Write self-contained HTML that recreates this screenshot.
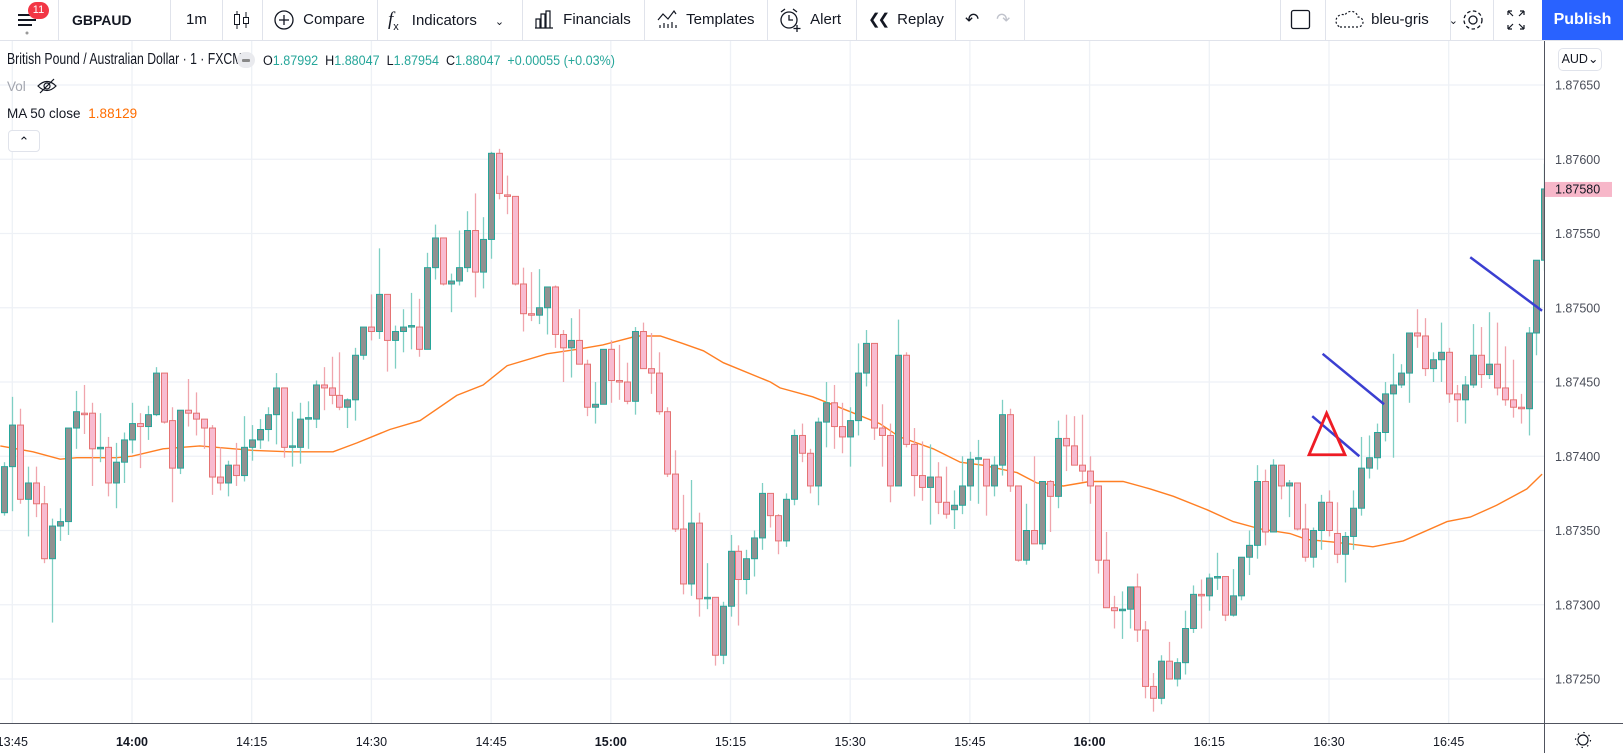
<!DOCTYPE html>
<html><head><meta charset="utf-8"><title>GBPAUD chart</title>
<style>
html,body{margin:0;padding:0;background:#fff;}
body{width:1623px;height:753px;overflow:hidden;position:relative;font-family:"Liberation Sans",sans-serif;color:#131722;}
#toolbar{position:absolute;left:0;top:0;width:1623px;height:40px;border-bottom:1px solid #e0e3eb;background:#fff;}
.tb{position:absolute;top:0;height:40px;line-height:40px;font-size:15px;color:#131722;white-space:nowrap;}
.sep{position:absolute;top:0;width:1px;height:40px;background:#e0e3eb;}
#chart{position:absolute;left:0;top:0;}
.leg{position:absolute;white-space:nowrap;}
</style></head>
<body>
<svg id="chart" width="1623" height="753">
  <defs><clipPath id="plotclip"><rect x="0" y="41" width="1544" height="682"/></clipPath></defs>
  <g id="grid"></g>
  <g id="ma" clip-path="url(#plotclip)"></g>
  <g id="candles" clip-path="url(#plotclip)"></g>
  <g id="drawings" clip-path="url(#plotclip)"></g>
  <g id="axes"></g>
</svg>

<div id="toolbar">
  <div class="tb" style="left:16px;width:24px">
    <svg width="24" height="40"><rect x="2" y="14" width="18" height="2" fill="#131722"/><rect x="2" y="19" width="18" height="2" fill="#131722"/><rect x="2" y="24" width="14" height="2" fill="#131722"/><circle cx="11" cy="33" r="1.5" fill="#999"/></svg>
  </div>
  <div class="tb" style="left:28px;top:2px;width:21px;height:17px;line-height:17px;background:#f23645;color:#fff;border-radius:9px;font-size:11px;text-align:center">11</div>
  <div class="sep" style="left:58px"></div>
  <div class="tb" style="left:72px;font-weight:bold;font-size:14px">GBPAUD</div>
  <div class="sep" style="left:170px"></div>
  <div class="tb" style="left:186px">1m</div>
  <div class="sep" style="left:222px"></div>
  <div class="tb" style="left:232px">
    <svg width="20" height="40"><line x1="5" y1="11" x2="5" y2="29" stroke="#131722"/><rect x="2.5" y="14.5" width="5" height="10" fill="#fff" stroke="#131722"/><line x1="14" y1="12" x2="14" y2="28" stroke="#131722"/><rect x="11.5" y="17.5" width="5" height="6" fill="#fff" stroke="#131722"/></svg>
  </div>
  <div class="sep" style="left:262px"></div>
  <div class="tb" style="left:273px">
    <svg width="22" height="40" style="vertical-align:top"><circle cx="11" cy="20" r="9" fill="none" stroke="#131722" stroke-width="1.3"/><line x1="11" y1="15" x2="11" y2="25" stroke="#131722" stroke-width="1.3"/><line x1="6" y1="20" x2="16" y2="20" stroke="#131722" stroke-width="1.3"/></svg>
    <span style="margin-left:4px">Compare</span></div>
  <div class="sep" style="left:377px"></div>
  <div class="tb" style="left:388px"><span style="font-family:'Liberation Serif',serif;font-style:italic;font-size:19px">f</span><span style="font-size:11px;position:relative;top:5px">x</span><span style="margin-left:13px">Indicators</span><span style="margin-left:18px;font-size:11px">&#8964;</span></div>
  <div class="sep" style="left:522px"></div>
  <div class="tb" style="left:533px">
    <svg width="22" height="40" style="vertical-align:top"><path d="M3 28V19h4v9M8 28V14h4v14M13 28V11h4v17M2 28h18" fill="none" stroke="#131722" stroke-width="1.2"/></svg>
    <span style="margin-left:4px">Financials</span></div>
  <div class="sep" style="left:644px"></div>
  <div class="tb" style="left:656px">
    <svg width="22" height="40" style="vertical-align:top"><path d="M2 20l5-6 5 5 6-8 2 3" fill="none" stroke="#131722" stroke-width="1.2"/><path d="M4 28v-3M8 28v-5M12 28v-4M16 28v-6M20 28v-3" stroke="#131722" stroke-width="1.2"/></svg>
    <span style="margin-left:4px">Templates</span></div>
  <div class="sep" style="left:767px"></div>
  <div class="tb" style="left:778px">
    <svg width="24" height="40" style="vertical-align:top"><circle cx="11" cy="20" r="8" fill="none" stroke="#131722" stroke-width="1.3"/><path d="M11 15v5h4M3 12l4-3M19 12l-4-3" fill="none" stroke="#131722" stroke-width="1.3"/><path d="M19 25v7M15.5 28.5h7" stroke="#131722" stroke-width="1.3"/></svg>
    <span style="margin-left:4px">Alert</span></div>
  <div class="sep" style="left:856px"></div>
  <div class="tb" style="left:868px"><span style="font-size:15px;letter-spacing:-3px">&#10094;&#10094;</span><span style="margin-left:10px">Replay</span></div>
  <div class="sep" style="left:955px"></div>
  <div class="tb" style="left:965px;font-size:17px">&#8630;</div>
  <div class="tb" style="left:996px;font-size:17px;color:#c0c3cc">&#8631;</div>
  <div class="sep" style="left:1024px"></div>
  <div class="sep" style="left:1280px"></div>
  <div class="tb" style="left:1290px"><svg width="22" height="40"><rect x="1.5" y="10.5" width="18" height="18" rx="2" fill="none" stroke="#131722" stroke-width="1.3"/></svg></div>
  <div class="sep" style="left:1325px"></div>
  <div class="tb" style="left:1334px">
    <svg width="30" height="40" style="vertical-align:top"><path d="M6 27h18a5 5 0 0 0 0-10 7 7 0 0 0-13-2 5 5 0 0 0-5 12z" fill="none" stroke="#131722" stroke-width="1.2" stroke-dasharray="2 2"/></svg>
    <span style="margin-left:3px">bleu-gris</span><span style="margin-left:20px;font-size:11px">&#8964;</span></div>
  <div class="sep" style="left:1450px"></div>
  <div class="tb" style="left:1461px"><svg width="24" height="40"><circle cx="12" cy="20" r="4" fill="none" stroke="#131722" stroke-width="1.3"/><circle cx="12" cy="20" r="9" fill="none" stroke="#131722" stroke-width="1.3" stroke-dasharray="3.5 2.5"/></svg></div>
  <div class="sep" style="left:1493px"></div>
  <div class="tb" style="left:1504px"><svg width="24" height="40"><path d="M4 11v4M4 11h4M4 11l5 5M20 11v4M20 11h-4M20 11l-5 5M4 29v-4M4 29h4M4 29l5-5M20 29v-4M20 29h-4M20 29l-5-5" fill="none" stroke="#131722" stroke-width="1.2"/></svg></div>
  <div class="tb" style="left:1542px;width:81px;background:#2962ff;color:#fff;font-weight:bold;font-size:16px;text-align:center">Publish</div>
</div>

<div class="leg" style="left:7px;top:51px;font-size:15.5px;color:#131722;transform:scaleX(0.79);transform-origin:0 0">British Pound / Australian Dollar · 1 · FXCM</div>
<div class="leg" style="left:237px;top:52px;width:18px;height:16px;border-radius:9px;background:#e9eaee"><div style="margin:7px 5px;width:8px;height:3px;background:#888;border-radius:1px"></div></div>
<div class="leg" style="left:263px;top:53px;font-size:13.5px;transform:scaleX(0.93);transform-origin:0 0">O<span style="color:#26a69a">1.87992</span>&nbsp; H<span style="color:#26a69a">1.88047</span>&nbsp; L<span style="color:#26a69a">1.87954</span>&nbsp; C<span style="color:#26a69a">1.88047 &nbsp;+0.00055 (+0.03%)</span></div>
<div class="leg" style="left:7px;top:78px;font-size:13.5px;color:#a3a6af">Vol <svg width="22" height="16" style="vertical-align:-3px;margin-left:6px"><path d="M2 8q9-9 18 0q-9 9-18 0z" fill="none" stroke="#131722" stroke-width="1.2"/><circle cx="11" cy="8" r="3" fill="none" stroke="#131722" stroke-width="1.2"/><line x1="4" y1="15" x2="18" y2="1" stroke="#131722" stroke-width="1.2"/></svg></div>
<div class="leg" style="left:7px;top:106px;font-size:13.5px">MA 50 close <span style="color:#ff6d00;margin-left:4px">1.88129</span></div>
<div class="leg" style="left:8px;top:130px;width:30px;height:20px;border:1px solid #e0e3eb;border-radius:4px;background:#fff;text-align:center;font-size:13px;line-height:22px">&#8963;</div>
<div class="leg" style="left:1558px;top:48px;width:42px;height:21px;border:1px solid #e0e3eb;border-radius:5px;font-size:12.5px;line-height:21px;text-align:center;color:#131722">AUD&#8964;</div>

<script>
// ---- data ----
var startMinute = -16;
var opens = [1.87362,1.87393,1.87421,1.87371,1.87382,1.87368,1.87331,1.87353,1.87356,1.87419,1.87429,1.87429,1.87405,1.87406,1.87382,1.87396,
1.87411,1.87422,1.87420,1.87428,1.87456,1.87424,1.87392,1.87431,1.87429,1.87425,1.87419,1.87386,1.87382,1.87394,1.87387,1.87406,1.87411,1.87418,1.87428,1.87446,1.87406,1.87406,1.87425,1.87425,1.87448,1.87446,1.87441,1.87433,1.87438,1.87468,1.87487,1.87484,1.87509,1.87478,
1.87484,1.87487,1.87487,1.87472,1.87527,1.87547,1.87516,1.87518,1.87527,1.87552,1.87524,1.87546,1.87604,1.87576,1.87575,1.87516,1.87496,1.87495,1.87500,1.87514,1.87482,1.87473,1.87478,1.87462,1.87433,1.87435,1.87472,1.87451,1.87450,1.87437,1.87484,1.87459,1.87456,1.87430,1.87388,1.87351,1.87314,1.87355,1.87304,1.87305,1.87266,1.87299,1.87336,1.87317,1.87331,1.87345,
1.87375,1.87360,1.87343,1.87371,1.87414,1.87402,1.87380,1.87423,1.87436,1.87420,1.87413,1.87424,1.87456,1.87476,1.87419,1.87414,1.87380,1.87468,1.87408,1.87387,1.87379,1.87386,1.87369,1.87364,1.87367,1.87380,1.87398,1.87398,1.87380,1.87394,1.87428,1.87380,1.87330,1.87350,1.87341,1.87383,1.87373,1.87412,1.87407,1.87394,1.87390,1.87380,1.87330,1.87298,1.87296,1.87297,1.87312,1.87283,
1.87245,1.87237,1.87262,1.87250,1.87261,1.87284,1.87307,1.87306,1.87318,1.87319,1.87293,1.87306,1.87332,1.87340,1.87383,1.87349,1.87394,1.87380,1.87382,1.87351,1.87332,1.87350,1.87369,1.87348,1.87334,1.87346,1.87365,1.87392,1.87399,1.87416,1.87442,1.87448,1.87456,1.87483,1.87481,1.87459,1.87465,1.87470,1.87442,1.87438,1.87448,1.87468,1.87455,1.87462,1.87446,1.87438,1.87433,1.87432,1.87483,1.87532];
var highs = [1.87396,1.87440,1.87432,1.87393,1.87393,1.87380,1.87358,1.87365,1.87419,1.87444,1.87448,1.87436,1.87429,1.87413,1.87409,1.87416,
1.87436,1.87429,1.87434,1.87460,1.87456,1.87433,1.87431,1.87452,1.87443,1.87425,1.87421,1.87406,1.87397,1.87409,1.87427,1.87421,1.87425,1.87433,1.87456,1.87446,1.87430,1.87436,1.87437,1.87451,1.87460,1.87467,1.87470,1.87439,1.87473,1.87487,1.87509,1.87540,1.87509,1.87488,
1.87499,1.87510,1.87506,1.87537,1.87556,1.87547,1.87523,1.87552,1.87565,1.87577,1.87561,1.87605,1.87607,1.87589,1.87575,1.87527,1.87524,1.87526,1.87514,1.87515,1.87485,1.87493,1.87499,1.87465,1.87450,1.87472,1.87478,1.87475,1.87463,1.87487,1.87490,1.87483,1.87470,1.87433,1.87404,1.87374,1.87384,1.87362,1.87328,1.87305,1.87302,1.87347,1.87340,1.87337,1.87350,1.87382,
1.87375,1.87361,1.87375,1.87418,1.87422,1.87405,1.87426,1.87450,1.87448,1.87436,1.87433,1.87476,1.87485,1.87476,1.87435,1.87422,1.87492,1.87470,1.87419,1.87410,1.87408,1.87396,1.87393,1.87377,1.87400,1.87403,1.87411,1.87398,1.87400,1.87438,1.87432,1.87380,1.87368,1.87400,1.87383,1.87384,1.87424,1.87428,1.87427,1.87428,1.87400,1.87380,1.87349,1.87306,1.87309,1.87312,1.87321,1.87289,
1.87254,1.87266,1.87275,1.87264,1.87296,1.87313,1.87317,1.87321,1.87335,1.87319,1.87324,1.87332,1.87350,1.87394,1.87391,1.87398,1.87394,1.87384,1.87382,1.87368,1.87352,1.87374,1.87377,1.87369,1.87349,1.87377,1.87413,1.87414,1.87422,1.87450,1.87469,1.87462,1.87483,1.87499,1.87493,1.87470,1.87490,1.87473,1.87448,1.87454,1.87489,1.87487,1.87497,1.87490,1.87474,1.87465,1.87442,1.87487,1.87532,1.87597];
var lows = [1.87360,1.87363,1.87368,1.87346,1.87359,1.87328,1.87288,1.87343,1.87347,1.87405,1.87415,1.87380,1.87396,1.87373,1.87365,1.87382,
1.87402,1.87392,1.87411,1.87427,1.87422,1.87369,1.87388,1.87420,1.87414,1.87405,1.87374,1.87377,1.87373,1.87380,1.87383,1.87397,1.87405,1.87410,1.87408,1.87399,1.87393,1.87395,1.87405,1.87419,1.87431,1.87435,1.87431,1.87419,1.87424,1.87465,1.87478,1.87479,1.87457,1.87459,
1.87470,1.87472,1.87467,1.87472,1.87519,1.87515,1.87497,1.87515,1.87524,1.87507,1.87513,1.87533,1.87573,1.87563,1.87515,1.87484,1.87491,1.87489,1.87482,1.87473,1.87450,1.87453,1.87462,1.87427,1.87422,1.87435,1.87436,1.87438,1.87435,1.87428,1.87459,1.87442,1.87428,1.87386,1.87349,1.87307,1.87306,1.87292,1.87297,1.87259,1.87260,1.87292,1.87286,1.87307,1.87319,1.87337,
1.87352,1.87334,1.87339,1.87367,1.87396,1.87375,1.87367,1.87406,1.87405,1.87402,1.87393,1.87414,1.87447,1.87411,1.87393,1.87369,1.87380,1.87406,1.87373,1.87370,1.87354,1.87361,1.87358,1.87351,1.87361,1.87370,1.87368,1.87360,1.87373,1.87387,1.87376,1.87329,1.87327,1.87341,1.87337,1.87349,1.87365,1.87390,1.87394,1.87383,1.87368,1.87321,1.87298,1.87284,1.87277,1.87284,1.87275,1.87237,
1.87228,1.87233,1.87250,1.87245,1.87253,1.87281,1.87284,1.87296,1.87310,1.87289,1.87292,1.87303,1.87320,1.87331,1.87340,1.87349,1.87371,1.87359,1.87350,1.87329,1.87325,1.87337,1.87346,1.87328,1.87315,1.87337,1.87360,1.87385,1.87391,1.87410,1.87399,1.87446,1.87436,1.87473,1.87454,1.87450,1.87450,1.87436,1.87423,1.87422,1.87446,1.87446,1.87452,1.87441,1.87434,1.87426,1.87422,1.87414,1.87468,1.87525];
var closes = [1.87393,1.87421,1.87371,1.87382,1.87368,1.87331,1.87353,1.87356,1.87419,1.87430,1.87428,1.87405,1.87406,1.87382,1.87396,1.87411,
1.87422,1.87420,1.87428,1.87456,1.87423,1.87392,1.87431,1.87429,1.87425,1.87419,1.87386,1.87382,1.87394,1.87387,1.87406,1.87411,1.87418,1.87428,1.87446,1.87406,1.87407,1.87425,1.87426,1.87448,1.87446,1.87441,1.87433,1.87438,1.87468,1.87487,1.87484,1.87509,1.87478,1.87484,
1.87487,1.87488,1.87472,1.87527,1.87547,1.87516,1.87518,1.87527,1.87552,1.87524,1.87546,1.87604,1.87577,1.87575,1.87516,1.87496,1.87495,1.87500,1.87514,1.87482,1.87473,1.87478,1.87462,1.87433,1.87435,1.87472,1.87451,1.87450,1.87437,1.87484,1.87459,1.87456,1.87430,1.87388,1.87351,1.87314,1.87355,1.87304,1.87305,1.87266,1.87299,1.87336,1.87317,1.87331,1.87345,1.87375,
1.87360,1.87343,1.87371,1.87414,1.87402,1.87380,1.87423,1.87436,1.87420,1.87413,1.87424,1.87456,1.87476,1.87419,1.87414,1.87380,1.87468,1.87408,1.87387,1.87379,1.87386,1.87369,1.87361,1.87367,1.87380,1.87398,1.87399,1.87380,1.87394,1.87428,1.87380,1.87330,1.87350,1.87341,1.87383,1.87373,1.87412,1.87407,1.87394,1.87390,1.87380,1.87330,1.87298,1.87296,1.87297,1.87312,1.87283,1.87245,
1.87237,1.87262,1.87250,1.87261,1.87284,1.87307,1.87306,1.87318,1.87319,1.87293,1.87306,1.87332,1.87340,1.87383,1.87349,1.87394,1.87380,1.87382,1.87351,1.87332,1.87350,1.87369,1.87350,1.87334,1.87346,1.87365,1.87392,1.87399,1.87416,1.87442,1.87448,1.87456,1.87483,1.87481,1.87459,1.87465,1.87470,1.87442,1.87438,1.87448,1.87468,1.87455,1.87462,1.87446,1.87438,1.87433,1.87432,1.87483,1.87532,1.87580];
var maMinutes = [-16.5,-12.4,-9,-6.9,-1.9,0,3.9,8.5,15,19.8,25.2,28.2,32.3,36.1,40.7,44,47,52,55.8,59,63.3,66.2,69,71.6,74.1,80,81.2,85.3,90,93.7,96.2,100.4,103.8,106.6,110.9,113.4,116.7,120,124.2,127.6,130.5,134.7,138,141.4,145.1,147.2,151,155.5,159.3,164.8,167.7,171,174.8,176.7];
var maValues = [1.87407,1.87403,1.87398,1.87399,1.87399,1.87400,1.87405,1.87407,1.87404,1.87403,1.87403,1.87409,1.87418,1.87424,1.87441,1.87448,1.87461,1.87469,1.87472,1.87475,1.87481,1.87481,1.87476,1.87471,1.87463,1.87450,1.87446,1.87440,1.87430,1.87422,1.87413,1.87405,1.87396,1.87394,1.87389,1.87382,1.87380,1.87383,1.87383,1.87378,1.87373,1.87364,1.87356,1.87351,1.87348,1.87344,1.87342,1.87339,1.87343,1.87356,1.87359,1.87367,1.87378,1.87388];
var priceTicks = [1.8765,1.8760,1.8755,1.8750,1.8745,1.8740,1.8735,1.8730,1.8725];
var timeTickMinutes = [-15,0,15,30,45,60,75,90,105,120,135,150,165];
var timeTickLabels = ["13:45","14:00","14:15","14:30","14:45","15:00","15:15","15:30","15:45","16:00","16:15","16:30","16:45"];
var lastPrice = 1.87580;
// drawings: [minute1, price1, minute2, price2]
var trendLines = [[167.7,1.87534,176.7,1.87498],[149.2,1.87469,156.9,1.87435],[147.9,1.87427,153.8,1.87400]];
var triangleMinutes = [149.7,147.5,152];
var trianglePrices = [1.87429,1.87401,1.87401];

// ---- scales ----
function xOf(m){ return 132 + m*7.98; }
function yOf(p){ return 85 + (1.8765 - p)*148500; }
var NS = "http://www.w3.org/2000/svg";
function mk(tag, attrs, parent){ var e=document.createElementNS(NS,tag); for(var k in attrs) e.setAttribute(k,attrs[k]); parent.appendChild(e); return e; }

var grid = document.getElementById('grid');
priceTicks.forEach(function(p){
  var l = mk('line',{x1:0,x2:1544,y1:yOf(p),y2:yOf(p),stroke:'#eef1f6','stroke-width':1.3},grid);
  
  
});
timeTickMinutes.forEach(function(m){
  var l = mk('line',{x1:xOf(m),x2:xOf(m),y1:41,y2:723,stroke:'#eef1f6','stroke-width':1.3},grid);
  
  
});

// MA
var maG = document.getElementById('ma');
var maPts = maMinutes.map(function(m,i){ return xOf(m).toFixed(1)+','+yOf(maValues[i]).toFixed(1); }).join(' ');
var mal = mk('polyline',{points:maPts,fill:'none',stroke:'#ff7f24','stroke-width':1.4},maG);



// candles
function drawCandles(){
  var cg = document.getElementById('candles');
  for (var i=0;i<opens.length;i++){
    var m = startMinute + i, cx = Math.round(xOf(m)) + 0.5;
    var up = closes[i] >= opens[i];
    var g = mk('g',{},cg);
    
    
    mk('line',{x1:cx,x2:cx,y1:yOf(highs[i]),y2:yOf(lows[i]),stroke: up ? '#7fcfc4' : '#f0a5ad','stroke-width':1.3},g);
    var bodyTop = yOf(Math.max(opens[i],closes[i])), bodyBot = yOf(Math.min(opens[i],closes[i]));
    var bh = Math.max(bodyBot-bodyTop,1.5);
    mk('rect',{x:cx-3,y:bodyTop,width:6,height:bh,fill: up ? '#919191' : '#f8bbd0',stroke: up ? '#26a69a' : '#e57373','stroke-width':1},g);
  }
}
drawCandles();

// drawings
var dg = document.getElementById('drawings');
trendLines.forEach(function(t){
  var l = mk('line',{x1:xOf(t[0]),y1:yOf(t[1]),x2:xOf(t[2]),y2:yOf(t[3]),stroke:'#3b3fd1','stroke-width':2.5},dg);
  
  
});
var tri = mk('polygon',{points:triangleMinutes.map(function(m,i){return xOf(m)+','+yOf(trianglePrices[i]);}).join(' '),fill:'none',stroke:'#ee1c25','stroke-width':2.8},dg);



// axes
var ax = document.getElementById('axes');
mk('line',{x1:1544.5,x2:1544.5,y1:41,y2:753,stroke:'#50535e','stroke-width':1},ax);
mk('line',{x1:0,x2:1623,y1:723.5,y2:723.5,stroke:'#50535e','stroke-width':1},ax);
priceTicks.forEach(function(p){
  var t = mk('text',{x:1555,y:yOf(p)+4.5,'font-size':12.5,fill:'#4a4e59','font-family':'Liberation Sans, sans-serif'},ax);
  t.textContent = p.toFixed(5);
  
  
});
timeTickMinutes.forEach(function(m,i){
  var lab = timeTickLabels[i];
  var t = mk('text',{x:xOf(m),y:746,'text-anchor':'middle','font-size':12.5,fill:'#131722','font-family':'Liberation Sans, sans-serif','font-weight': lab.slice(3)==='00' ? 'bold':'normal'},ax);
  t.textContent = lab;
  
  
});
var lp = mk('g',{},ax);


mk('rect',{x:1545,y:yOf(lastPrice)-7,width:67,height:15,fill:'#f7b7c9'},lp);
var lpt = mk('text',{x:1555,y:yOf(lastPrice)+4.5,'font-size':12.5,fill:'#131722','font-family':'Liberation Sans, sans-serif'},lp);
lpt.textContent = lastPrice.toFixed(5);
var gear = mk('g',{},ax);


mk('circle',{cx:1583,cy:740,r:5,fill:'none',stroke:'#131722','stroke-width':1.2},gear);
mk('circle',{cx:1583,cy:740,r:7.5,fill:'none',stroke:'#131722','stroke-width':1.2,'stroke-dasharray':'1.5 4.4'},gear);
</script>
</body></html>
